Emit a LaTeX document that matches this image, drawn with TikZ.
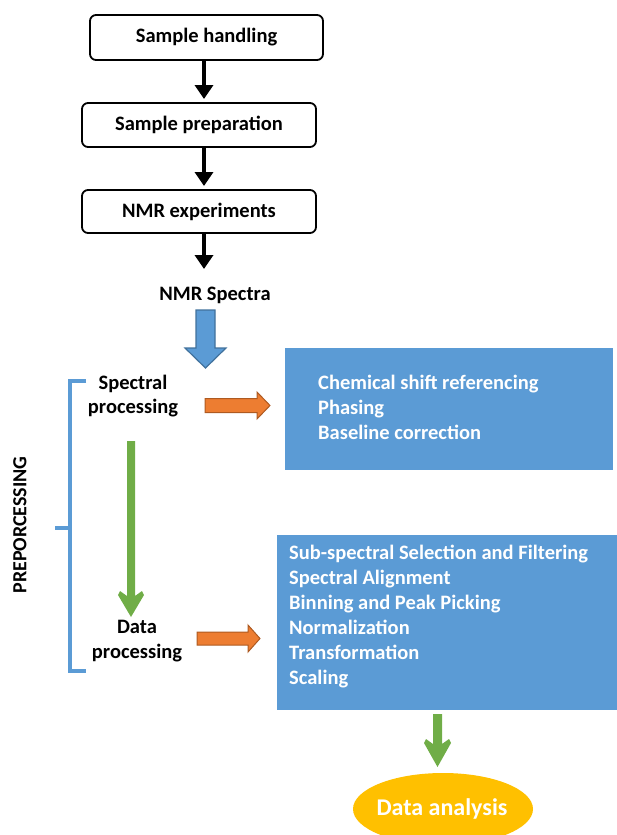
\documentclass[tikz,border=0pt]{standalone}
\usepackage{fontspec}
\setmainfont{Carlito}
\usetikzlibrary{arrows.meta,shapes.geometric}
\definecolor{mblue}{HTML}{5B9BD5}
\definecolor{dblue}{HTML}{41719C}
\definecolor{morange}{HTML}{ED7D31}
\definecolor{dorange}{HTML}{AE5A21}
\definecolor{mgreen}{HTML}{70AD47}
\definecolor{myellow}{HTML}{FFC000}
\tikzset{
  x=1pt,y=-1pt,
  stepbox/.style={draw=black,line width=1.8pt,rounded corners=6pt,font=\bfseries\fontsize{20.5}{24}\selectfont,inner sep=0pt},
  blk/.style={line width=4.5pt,-{Triangle[width=18pt,length=14pt]}},
  lbl/.style={font=\bfseries\fontsize{20.5}{24.5}\selectfont,align=center},
  bluebox/.style={fill=mblue,draw=none,inner sep=0pt},
  boxtxt/.style={font=\bfseries\fontsize{20.5}{25}\selectfont,text=white,align=left,anchor=west,inner sep=0pt},
}
\begin{document}
\begin{tikzpicture}
\useasboundingbox (0,0) rectangle (617,835);
\clip (0,0) rectangle (617,835);
% step boxes
\node[stepbox,minimum width=233pt,minimum height=45pt] (s1) at (206.5,37.5) {\raisebox{-2pt}{Sample handling}};
\node[stepbox,minimum width=234pt,minimum height=44pt] (s2) at (199,125) {\raisebox{-2pt}{Sample preparation}};
\node[stepbox,minimum width=234pt,minimum height=43pt] (s3) at (199,211.5) {\raisebox{-2pt}{NMR experiments}};
\node[lbl] (spec) at (215,295) {NMR Spectra};
\coordinate (a1) at (204,99);
\coordinate (a2) at (204,186);
\coordinate (a3) at (204,269);
\draw[blk] (s1.south -| a1) -- (a1);
\draw[blk] (s2.south -| a2) -- (a2);
\draw[blk] (s3.south -| a3) -- (a3);
% blue block arrow
\draw[fill=mblue,draw=dblue,line width=1.2pt,line join=miter] (196,310) -- (215,310) -- (215,348) -- (226,348) -- (205.5,368) -- (185,348) -- (196,348) -- cycle;
% right boxes
\node[bluebox,minimum width=328pt,minimum height=122pt] (b1) at (449,409) {};
\node[boxtxt] (t1) at (318,407) {Chemical shift referencing\\Phasing\\Baseline correction};
\node[bluebox,minimum width=340pt,minimum height=175pt] (b2) at (447,622.5) {};
\node[boxtxt] (t2) at (289,616.5) {Sub-spectral Selection and Filtering\\Spectral Alignment\\Binning and Peak Picking\\Normalization\\Transformation\\Scaling};
% left labels
\node[lbl] (sp) at (133,396) {Spectral\\processing};
\node[lbl] (dp) at (137,641) {Data\\processing};
% orange arrows
\draw[fill=morange,draw=dorange,line width=1pt] (205,398.5) -- (257,398.5) -- (257,392) -- (270,405.5) -- (257,419) -- (257,412.5) -- (205,412.5) -- cycle;
\draw[fill=morange,draw=dorange,line width=1pt] (197,632) -- (248,632) -- (248,625) -- (260,638.5) -- (248,652) -- (248,645) -- (197,645) -- cycle;
% green arrows
\fill[mgreen] (127,441) -- (135,441) -- (135,596) -- (142,591) -- (144,595) -- (131,617) -- (118,595) -- (120,591) -- (127,596) -- cycle;
\fill[mgreen] (433,714) -- (442,714) -- (442,744) -- (449,739) -- (451,743) -- (437.5,767) -- (424,743) -- (426,739) -- (433,744) -- cycle;
% bracket
\draw[mblue,line width=4.5pt] (86,381) -- (70,381) -- (70,671) -- (86,671);
\draw[mblue,line width=4.5pt] (70,528) -- (55,528);
\node[font=\bfseries\fontsize{20}{24}\selectfont,rotate=90] (pre) at (20,525) {PREPORCESSING};
% ellipse
\node[ellipse,fill=myellow,minimum width=180pt,minimum height=72pt,inner sep=0pt] (da) at (443,809) {};
\node[font=\bfseries\fontsize{24}{28}\selectfont,text=white] (dat) at (442,809) {Data analysis};
\end{tikzpicture}
\end{document}
